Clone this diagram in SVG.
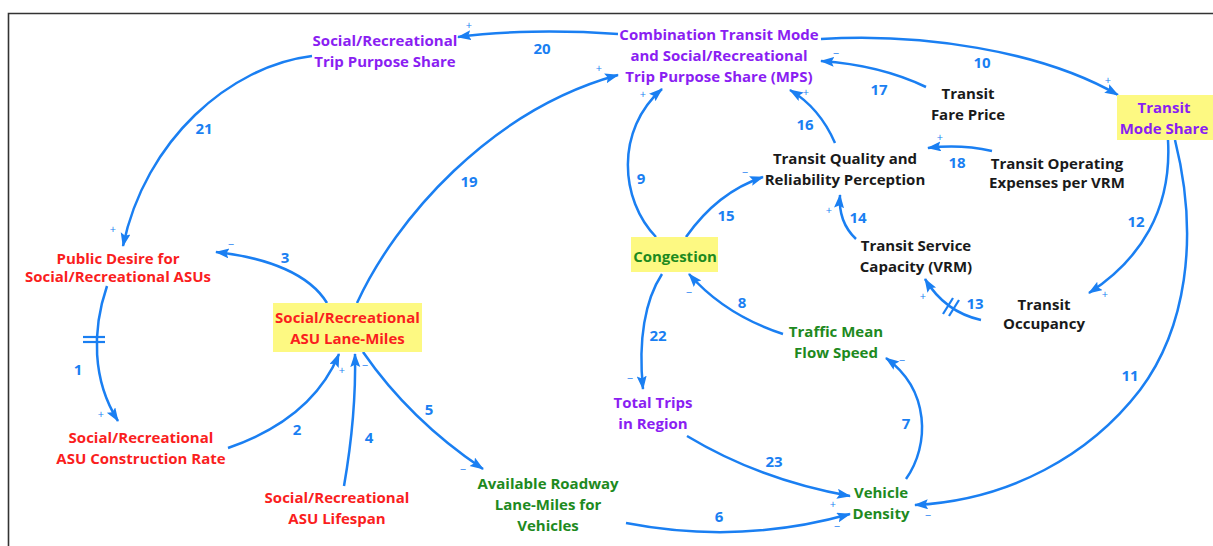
<svg xmlns="http://www.w3.org/2000/svg" width="1213" height="546" viewBox="0 0 1213 546">
<defs>
<marker id="ah" markerUnits="userSpaceOnUse" markerWidth="16" markerHeight="12" refX="13" refY="5" orient="auto">
<path d="M0,0 L14,5 L0,10 L2.5,5 z" fill="#1a7ff2"/>
</marker>
<style>
.t{font-family:"Open Sans","Liberation Sans",sans-serif;font-weight:bold;font-size:15px;text-anchor:middle}
.pu{fill:#8a1ef2}
.rd{fill:#fa1e1e}
.gr{fill:#1e8a1e}
.bk{fill:#1a1a1a}
.box{fill:#fdf982}
.c path{fill:none;stroke:#1a7ff2;stroke-width:2.5}
.c path.a{marker-end:url(#ah)}
.c line{stroke:#1a7ff2;stroke-width:2.2}
.n{font-family:"Open Sans","Liberation Sans",sans-serif;font-weight:bold;font-size:15px;fill:#1a7ff2;text-anchor:middle}
.s{font-family:"Open Sans","Liberation Sans",sans-serif;font-size:11px;fill:#1a7ff2;text-anchor:middle}
</style>
</defs>
<rect width="1213" height="546" fill="#ffffff"/>
<path d="M8.5,546 V13.5 H1213" fill="none" stroke="#333" stroke-width="1.6"/>

<g id="connectors" class="c">
<path class="a" d="M618,34 C560,30 500,31 458,37"/>
<path class="a" d="M312,56 C230,66 145,140 123,246"/>
<path class="a" d="M327,303 C310,275 270,258 216,252"/>
<path class="a" d="M357,303 C395,220 490,110 618,75"/>
<path class="a" d="M656,237 C620,200 615,130 662,89"/>
<path class="a" d="M686,237 C705,210 730,188 763,177"/>
<path class="a" d="M835,143 C825,120 810,102 790,90"/>
<path class="a" d="M926,87 Q880,65 821,61"/>
<path class="a" d="M821,39 C920,33 1040,50 1118,95"/>
<path class="a" d="M992,151 Q960,144 928,148"/>
<path class="a" d="M856,239 Q838,222 840,195"/>
<path class="a" d="M1168,140 C1172,210 1140,260 1089,293"/>
<path class="a" d="M1175,140 C1200,240 1185,330 1140,390 C1090,455 1010,500 915,505"/>
<path class="a" d="M981,320 Q945,312 925,279"/>
<line x1="943" y1="314" x2="953" y2="298"/>
<line x1="949" y1="316" x2="959" y2="300"/>
<path class="a" d="M783,334 Q725,315 689,274"/>
<path class="a" d="M662,274 C645,300 638,340 643,389"/>
<path class="a" d="M687,436 Q760,480 850,496"/>
<path class="a" d="M626,523 Q740,545 850,514"/>
<path class="a" d="M906,479 C930,445 930,390 886,358"/>
<path class="a" d="M363,352 Q410,420 483,469"/>
<path class="a" d="M344,486 C352,440 356,400 355,354"/>
<path class="a" d="M228,448 C280,430 320,400 339,354"/>
<path class="a" d="M107,286 C92,330 92,380 118,421"/>
<line x1="83" y1="337" x2="105" y2="337"/>
<line x1="83" y1="342" x2="105" y2="342"/>

<text class="n" x="542" y="54">20</text>
<text class="n" x="204" y="134">21</text>
<text class="n" x="285" y="263">3</text>
<text class="n" x="469" y="187">19</text>
<text class="n" x="641" y="184">9</text>
<text class="n" x="726" y="221">15</text>
<text class="n" x="805" y="130">16</text>
<text class="n" x="879" y="95">17</text>
<text class="n" x="982" y="68">10</text>
<text class="n" x="957" y="168">18</text>
<text class="n" x="858" y="223">14</text>
<text class="n" x="1136" y="227">12</text>
<text class="n" x="1130" y="381">11</text>
<text class="n" x="975" y="309">13</text>
<text class="n" x="742" y="308">8</text>
<text class="n" x="658" y="341">22</text>
<text class="n" x="774" y="467">23</text>
<text class="n" x="719" y="522">6</text>
<text class="n" x="906" y="429">7</text>
<text class="n" x="429" y="415">5</text>
<text class="n" x="369" y="443">4</text>
<text class="n" x="297" y="435">2</text>
<text class="n" x="78" y="375">1</text>

<text class="s" x="469" y="29">+</text>
<text class="s" x="113" y="233">+</text>
<text class="s" x="231" y="248">−</text>
<text class="s" x="599" y="72">+</text>
<text class="s" x="643" y="98">+</text>
<text class="s" x="745" y="176">−</text>
<text class="s" x="806" y="96">+</text>
<text class="s" x="836" y="57">−</text>
<text class="s" x="1108" y="84">+</text>
<text class="s" x="940" y="141">+</text>
<text class="s" x="829" y="214">+</text>
<text class="s" x="1105" y="298">+</text>
<text class="s" x="928" y="519">−</text>
<text class="s" x="923" y="300">+</text>
<text class="s" x="689" y="296">−</text>
<text class="s" x="630" y="382">−</text>
<text class="s" x="833" y="508">+</text>
<text class="s" x="837" y="530">−</text>
<text class="s" x="902" y="364">−</text>
<text class="s" x="463" y="473">−</text>
<text class="s" x="365" y="369">−</text>
<text class="s" x="342" y="374">+</text>
<text class="s" x="101" y="418">+</text>
</g>

<g id="n_trip_share"><text class="t pu" x="385" y="46">Social/Recreational</text><text class="t pu" x="385" y="67">Trip Purpose Share</text></g>
<g id="n_mps"><text class="t pu" x="719" y="40">Combination Transit Mode</text><text class="t pu" x="719" y="61">and Social/Recreational</text><text class="t pu" x="719" y="82">Trip Purpose Share (MPS)</text></g>
<g id="n_transit_mode_share"><rect class="box" x="1117" y="95" width="96" height="45"/><text class="t pu" x="1164" y="113">Transit</text><text class="t pu" x="1164" y="134">Mode Share</text></g>
<g id="n_fare"><text class="t bk" x="968" y="99">Transit</text><text class="t bk" x="968" y="120">Fare Price</text></g>
<g id="n_quality"><text class="t bk" x="845" y="164">Transit Quality and</text><text class="t bk" x="845" y="185">Reliability Perception</text></g>
<g id="n_opex"><text class="t bk" x="1057" y="169">Transit Operating</text><text class="t bk" x="1057" y="188">Expenses per VRM</text></g>
<g id="n_capacity"><text class="t bk" x="916" y="251">Transit Service</text><text class="t bk" x="916" y="272">Capacity (VRM)</text></g>
<g id="n_occupancy"><text class="t bk" x="1044" y="310">Transit</text><text class="t bk" x="1044" y="329">Occupancy</text></g>
<g id="n_congestion"><rect class="box" x="631" y="237" width="87" height="35"/><text class="t gr" x="675" y="262">Congestion</text></g>
<g id="n_speed"><text class="t gr" x="836" y="337">Traffic Mean</text><text class="t gr" x="836" y="358">Flow Speed</text></g>
<g id="n_total_trips"><text class="t pu" x="653" y="408">Total Trips</text><text class="t pu" x="653" y="429">in Region</text></g>
<g id="n_density"><text class="t gr" x="881" y="498">Vehicle</text><text class="t gr" x="881" y="519">Density</text></g>
<g id="n_roadway"><text class="t gr" x="548" y="489">Available Roadway</text><text class="t gr" x="548" y="510">Lane-Miles for</text><text class="t gr" x="548" y="531">Vehicles</text></g>
<g id="n_lifespan"><text class="t rd" x="337" y="503">Social/Recreational</text><text class="t rd" x="337" y="524">ASU Lifespan</text></g>
<g id="n_construction"><text class="t rd" x="141" y="443">Social/Recreational</text><text class="t rd" x="141" y="464">ASU Construction Rate</text></g>
<g id="n_desire"><text class="t rd" x="118" y="264">Public Desire for</text><text class="t rd" x="118" y="282">Social/Recreational ASUs</text></g>
<g id="n_lane_miles"><rect class="box" x="273" y="303" width="149" height="49"/><text class="t rd" x="347.5" y="323">Social/Recreational</text><text class="t rd" x="347.5" y="344">ASU Lane-Miles</text></g>
</svg>
